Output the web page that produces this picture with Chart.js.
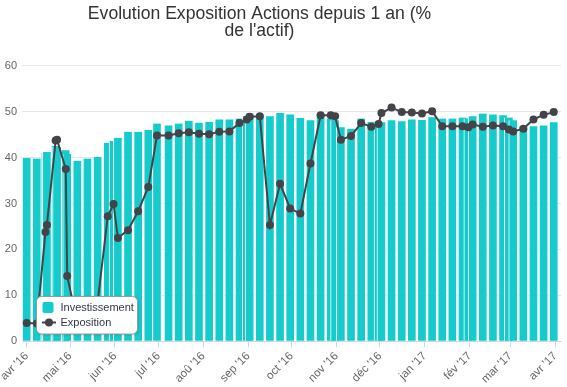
<!DOCTYPE html>
<html><head><meta charset="utf-8">
<script src="https://cdn.jsdelivr.net/npm/chart.js@4/dist/chart.umd.min.js"></script>
<style>html,body{margin:0;padding:0;background:#fff}#wrap{width:567px;height:387px;position:relative}</style>
</head><body><div id="wrap"><canvas id="c" width="567" height="387"></canvas></div>
<script>
const titleLines = ["Evolution Exposition Actions depuis 1 an (%", "de l'actif)"];
const seriesNames = ["Investissement", "Exposition"];
const dates = [
'2016-04-01','2016-04-08','2016-04-14','2016-04-15','2016-04-21','2016-04-22','2016-04-28','2016-04-29',
'2016-05-06','2016-05-13','2016-05-20','2016-05-27','2016-05-31','2016-06-03','2016-06-10','2016-06-17','2016-06-24','2016-06-30',
'2016-07-08','2016-07-15','2016-07-22','2016-07-29','2016-08-05','2016-08-12','2016-08-19','2016-08-26','2016-08-31',
'2016-09-02','2016-09-09','2016-09-16','2016-09-23','2016-09-30','2016-10-07','2016-10-14','2016-10-21','2016-10-28','2016-10-31',
'2016-11-04','2016-11-11','2016-11-18','2016-11-25','2016-11-30','2016-12-02','2016-12-09','2016-12-16','2016-12-23','2016-12-30',
'2017-01-06','2017-01-13','2017-01-20','2017-01-27','2017-01-31','2017-02-03','2017-02-10','2017-02-17','2017-02-24','2017-02-28',
'2017-03-03','2017-03-10','2017-03-17','2017-03-24','2017-03-31'];
const investissement = [39.9,39.8,41.0,41.2,42.5,42.3,41.6,40.8,
39.3,39.8,40.1,43.2,43.6,44.3,45.6,45.6,46.0,47.4,
47.0,47.4,48.0,47.6,47.8,48.3,48.3,48.5,49.0,
49.6,49.4,49.0,49.7,49.4,48.6,48.1,49.6,48.5,48.1,
46.6,46.3,48.5,47.8,47.7,47.7,48.1,47.9,48.3,48.2,
48.8,48.5,48.5,48.7,48.5,49.0,49.6,49.4,49.2,48.7,
48.1,46.8,46.8,47.0,47.7];
const exposition = [4.0,3.9,23.8,25.3,43.7,43.9,37.5,14.2,
4.0,4.0,8.5,27.2,29.9,22.5,24.2,28.3,33.6,44.8,
44.8,45.3,45.5,45.2,45.1,45.6,45.7,47.5,48.3,
48.9,49.0,25.3,34.3,28.9,27.8,38.7,49.2,49.2,49.0,
43.9,44.7,47.5,46.7,47.3,49.7,50.9,49.9,49.8,49.6,
50.1,46.8,46.8,46.8,46.6,47.2,46.7,47.0,46.8,46.1,
45.7,46.3,48.3,49.3,49.9];
const tickDates = ['2016-04-01','2016-05-01','2016-06-01','2016-07-01','2016-08-01','2016-09-01','2016-10-01',
'2016-11-01','2016-12-01','2017-01-01','2017-02-01','2017-03-01','2017-04-01'];
const tickLabels = ["avr '16","mai '16","jun '16","jul '16","aoû '16","sep '16","oct '16",
"nov '16","déc '16","jan '17","fév '17","mar '17","avr '17"];
const yMin = 0, yMax = 60, yStep = 10;

const DAY = 86400000;
const toMs = s => Date.parse(s + 'T00:00:00Z');
const xMin = toMs('2016-04-01') - 3.22 * DAY;
const xMax = toMs('2016-04-01') + 369.1 * DAY;
const CYAN = '#15CBCB';
const DARK = '#434348';
const FONT = "'Liberation Sans', Arial, sans-serif";

const titleShift = {
  id: 'titleShift',
  afterLayout(chart) { const t = chart.titleBlock; if (t) { t.right -= 46; } }
};

const legendBox = {
  id: 'legendBox',
  afterDraw(chart) {
    const c = chart.ctx;
    const x = 36.5, y = 296.5, w = 101, h = 37.5, r = 5;
    c.save();
    c.shadowColor = 'rgba(0,0,0,0.18)';
    c.shadowOffsetX = 1; c.shadowOffsetY = 1; c.shadowBlur = 3;
    c.beginPath();
    c.roundRect(x, y, w, h, r);
    c.fillStyle = '#fff';
    c.fill();
    c.shadowColor = 'transparent';
    c.strokeStyle = '#999';
    c.lineWidth = 1;
    c.stroke();
    c.fillStyle = chart.data.datasets[0].backgroundColor;
    c.beginPath(); c.roundRect(42.5, 302, 11, 11, 2); c.fill();
    c.strokeStyle = DARK; c.lineWidth = 2;
    c.beginPath(); c.moveTo(42, 322.5); c.lineTo(56, 322.5); c.stroke();
    c.fillStyle = DARK;
    c.beginPath(); c.arc(49, 322.5, 4, 0, Math.PI * 2); c.fill();
    c.fillStyle = '#333848';
    c.font = "11px " + FONT;
    c.textBaseline = 'middle';
    c.fillText(chart.data.datasets[0].label, 60.5, 307.5);
    c.fillText(chart.data.datasets[1].label, 60.5, 323);
    c.restore();
  }
};

new Chart(document.getElementById('c'), {
  type: 'bar',
  data: {
    datasets: [
      { type: 'bar', label: seriesNames[0],
        data: dates.map((d, i) => ({ x: toMs(d), y: investissement[i] })),
        backgroundColor: CYAN, borderColor: '#ffffff',
        borderWidth: { left: 1, right: 1, top: 0, bottom: 0 },
        barThickness: 9, order: 1 },
      { type: 'line', label: seriesNames[1],
        data: dates.map((d, i) => ({ x: toMs(d), y: exposition[i] })),
        borderColor: DARK, borderWidth: 2, tension: 0,
        pointRadius: 4, pointBackgroundColor: DARK, pointBorderWidth: 0, order: 0 }
    ]
  },
  options: {
    responsive: false, animation: false,
    layout: { padding: { left: 0, right: 2, top: 0, bottom: 0 } },
    plugins: {
      legend: { display: false },
      tooltip: { enabled: false },
      title: { display: true, text: titleLines, color: '#333',
        font: { family: FONT, size: 17.6, weight: 'normal', lineHeight: 0.966 },
        padding: { top: 6, bottom: 25.7 } }
    },
    scales: {
      x: {
        type: 'linear', min: xMin, max: xMax, offset: false,
        grid: { display: true, drawOnChartArea: false, drawTicks: true, tickLength: 6, color: '#ccd6eb', offset: false },
        border: { display: true, color: '#ccd6eb' },
        ticks: { autoSkip: false, minRotation: 45, maxRotation: 45, color: '#666', padding: 2,
          font: { family: FONT, size: 11.5 },
          callback: (v, i) => tickLabels[i] },
        afterBuildTicks: s => { s.ticks = tickDates.map(d => ({ value: toMs(d) })); },
        afterFit: s => { s.height = 45.7; }
      },
      y: {
        min: yMin, max: yMax,
        ticks: { stepSize: yStep, color: '#666', padding: 5, font: { family: FONT, size: 11 } },
        grid: { color: '#e6e6e6', drawTicks: false },
        border: { display: false },
        afterFit: s => { s.width = 22; }
      }
    }
  },
  plugins: [titleShift, legendBox]
});
</script></body></html>
